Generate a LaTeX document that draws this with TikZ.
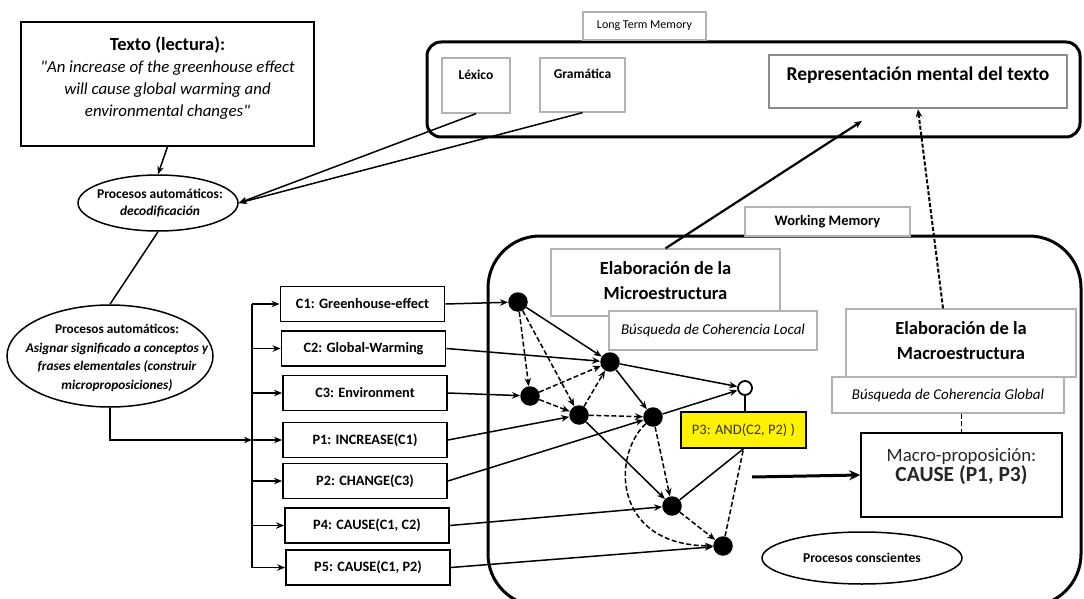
\documentclass[tikz,border=0pt]{standalone}
\usepackage{fontspec}
\setmainfont{Carlito}[Ligatures=TeXOff]
\usetikzlibrary{arrows.meta,shapes.geometric}

\begin{document}
\begin{tikzpicture}[x=1pt,y=-1pt,
  conn/.style={line width=1.5pt},
  arr/.style={conn,-{Stealth[length=8pt,width=6.5pt]}},
  darr/.style={arr,dash pattern=on 5pt off 2.5pt},
  dline/.style={conn,dash pattern=on 5pt off 2.5pt},
  blackbox/.style={draw,line width=1.9pt,fill=white,inner sep=0pt},
  greybox/.style={draw=black!30,line width=1.3pt,fill=white,inner sep=0pt},
  prop/.style={blackbox,minimum width=164pt,minimum height=35pt,
    font=\fontsize{14.3}{16}\selectfont\bfseries},
  dot/.style={circle,fill=black,minimum size=19.5pt,inner sep=0pt},
  oval/.style={ellipse,draw,line width=1.5pt,fill=white,inner sep=0pt},
  memory/.style={draw,line width=3pt},
  heading/.style={font=\fontsize{18.5}{25}\selectfont\bfseries,align=center},
  searchtxt/.style={font=\fontsize{15}{17}\selectfont\itshape}
]
\useasboundingbox (0,0) rectangle (1084,599);

% memory stores
\draw[memory,rounded corners=14pt] (427,42) rectangle (1080,137);
\draw[memory,rounded corners=52pt] (488,236) rectangle (1081,606);
\node[greybox,minimum width=123pt,minimum height=28pt,
  font=\fontsize{12}{14}\selectfont] (ltm) at (644.5,26) {Long Term Memory};
\node[greybox,minimum width=165pt,minimum height=29pt,
  font=\fontsize{14.5}{16}\selectfont\bfseries] (wm) at (827.5,221.5) {Working Memory};

% contents of long term memory
\node[greybox,minimum width=68pt,minimum height=55pt] (lex) at (476,85.5) {};
\node[font=\fontsize{13.5}{15}\selectfont\bfseries] (lextxt) at (476,75) {Léxico};
\node[greybox,minimum width=85pt,minimum height=54pt] (gram) at (582.5,85) {};
\node[font=\fontsize{13.5}{15}\selectfont\bfseries] (gramtxt) at (582.5,74) {Gramática};
\node[greybox,draw=black!45,line width=2.5pt,minimum width=298pt,minimum height=53pt] (repr) at (918,81.5) {};
\node[font=\fontsize{19.5}{21}\selectfont\bfseries] (reprtxt) at (918,75) {Representación mental del texto};

% input text
\node[draw,line width=1.4pt,minimum width=293pt,minimum height=124pt,inner sep=0pt] (texto) at (167.5,84) {};
\node[align=center,font=\fontsize{16.8}{22}\selectfont] (textotxt) at (167.5,78)
  {{\bfseries\fontsize{18.5}{22}\selectfont Texto (lectura):}\\
   \itshape "An increase of the greenhouse effect\\
   \itshape will cause global warming and\\
   \itshape environmental changes"};

% automatic processes
\node[oval,minimum width=160pt,minimum height=56pt] (e1) at (158,203) {};
\node[align=center,font=\fontsize{13.5}{17}\selectfont\bfseries] (e1txt) at (160,203)
  {Procesos automáticos:\\ \itshape decodificación};
\node[oval,minimum width=206pt,minimum height=102pt] (e2) at (110,356) {};
\node[align=center,font=\fontsize{13.3}{18.5}\selectfont\bfseries] (e2txt) at (117,358)
  {Procesos automáticos:\\ \itshape Asignar significado a conceptos y\\
   \itshape frases elementales (construir\\ \itshape microproposiciones)};
\node[oval,minimum width=200pt,minimum height=52pt,
  font=\fontsize{13.5}{15}\selectfont\bfseries] (consc) at (862,558) {Procesos conscientes};

% concepts and propositions
\node[prop] (c1) at (362.5,304) {C1: Greenhouse-effect};
\node[prop] (c2) at (363.5,348.5) {C2: Global-Warming};
\node[prop] (c3) at (365,393) {C3: Environment};
\node[prop] (p1) at (365,440) {P1: INCREASE(C1)};
\node[prop] (p2) at (365,481) {P2: CHANGE(C3)};
\node[prop] (p4) at (367,525.5) {P4: CAUSE(C1, C2)};
\node[prop] (p5) at (368,567.5) {P5: CAUSE(C1, P2)};

% distribution bus
\coordinate (busT) at (252,304);
\coordinate (busB) at (252,567.5);
\draw[conn] (busT) -- (busB);
\foreach \b in {c1,c2,c3,p1,p2,p4,p5}
  \draw[arr] (\b.west -| busT) -- (\b.west);

% process links
\draw[arr] (texto.south) -- (e1.north);
\draw[arr] (lex.south) -- (e1.east);
\draw[arr] (gram.south) -- (e1.east);
\draw[conn] (e1.south) -- (e2.north);
\draw[arr] (e2.south) |- (p1.west -| busT);

% micro- and macrostructure panels
\node[greybox,minimum width=229pt,minimum height=67pt] (micro) at (665.5,282.5) {};
\node[heading] (microtxt) at (665.5,281) {Elaboración de la\\Microestructura};
\node[greybox,minimum width=208pt,minimum height=39pt,searchtxt] (local) at (713,330.5) {Búsqueda de Coherencia Local};
\node[greybox,minimum width=230pt,minimum height=68pt] (macro) at (961,343) {};
\node[heading] (macrotxt) at (961,341) {Elaboración de la\\Macroestructura};
\node[greybox,minimum width=232pt,minimum height=36pt,searchtxt] (global) at (948,395) {Búsqueda de Coherencia Global};
\node[blackbox,line width=1.6pt,minimum width=201pt,minimum height=84pt] (mp) at (961.5,475) {};
\node[align=center,text=black!85] (mptxt) at (961.5,467)
  {{\fontsize{18.8}{28}\selectfont Macro-proposición:}\\
   {\fontsize{21.5}{28}\selectfont\bfseries CAUSE (P1, P3)}};

% propositional network
\node[dot] (n1) at (518,302) {};
\node[dot] (n2) at (610,362) {};
\node[dot] (n3) at (530,396) {};
\node[dot] (n4) at (579,415) {};
\node[dot] (n5) at (653,417) {};
\node[dot] (n6) at (672,506) {};
\node[dot] (n7) at (723,546) {};
\node[circle,draw,line width=1.8pt,fill=white,minimum size=14pt,inner sep=0pt] (o) at (745,388) {};
\node[draw,line width=1.5pt,fill=yellow,minimum width=125pt,minimum height=36pt,
  text=black!80,font=\fontsize{14.5}{16}\selectfont] (p3) at (743.5,430) {P3: AND(C2, P2) )};

\draw[arr] (c1.east) -- (n1);
\draw[arr] (c2.east) -- (n2);
\draw[arr] (c3.east) -- (n3);
\draw[arr] (p1.east) -- (n4);
\draw[arr] (p2.east) -- (n5);
\draw[arr] (p4.east) -- (n6);
\draw[arr] (p5.east) -- (n7);
\draw[arr] (n1) -- (n2);
\draw[darr] (n1) -- (n3);
\draw[darr] (n1) -- (n4);
\draw[darr] (n3) -- (n2);
\draw[darr] (n3) -- (n4);
\draw[darr] (n4) -- (n2);
\draw[arr] (n2) -- (n5);
\draw[darr] (n4) -- (n5);
\draw[arr] (n2) -- (o);
\draw[arr] (n5) -- (o);
\draw[arr] (n4) -- (n6);
\draw[darr] (n5) -- (n6);
\draw[darr] (n6) -- (n7);
\draw[darr] (n5) .. controls (612,455) and (612,545) .. (n7);
\draw[conn] (n6) -- (p3.south);
\draw[dline] (n7) -- (p3.south);
\draw[conn,line width=1.8pt] (o.south) -- (o.south |- p3.north);

% links to memory and macro-proposition
\coordinate (mentalin) at (862,121);
\draw[arr,line width=2.2pt] (micro.north) -- (mentalin);
\draw[arr,line width=2pt,dash pattern=on 4pt off 2pt] ([xshift=-18pt]macro.north) -- (repr.south);
\draw[dline] (mp.north |- global.south) -- (mp.north);
\coordinate (mpin) at (752,477);
\draw[line width=3pt,-{Stealth[length=11pt,width=10pt]}] (mpin) -- (mp.west);
\end{tikzpicture}
\end{document}
